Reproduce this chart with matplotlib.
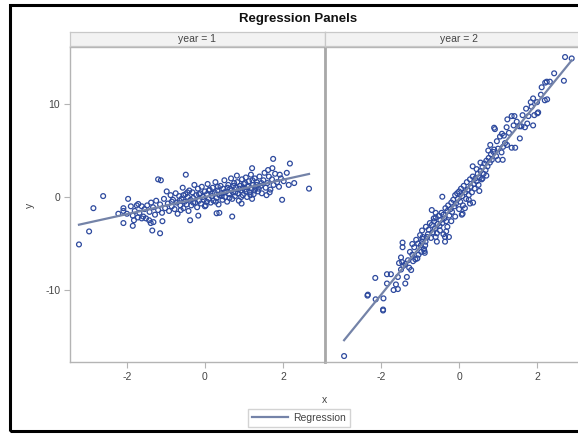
import numpy as np
import matplotlib.pyplot as plt
from matplotlib.patches import Rectangle
from matplotlib.lines import Line2D

plt.rcParams['font.family'] = ['Liberation Sans', 'DejaVu Sans']
plt.rcParams['axes.unicode_minus'] = False

# panel labels
panels = ["year = 1", "year = 2"]

# year = 1 points
x1 = [-3.23, -2.97, -2.86, -2.61, -2.09, -2.09, -1.97, -1.85, -1.82, -1.71, -1.35, -1.15, -1.2, -1.13,
      -1.09, -0.49, -0.38, 0.7, 1.75, 2.18, 2.67, 2.29, 1.98, 1.73, 1.21, 1.62, 1.92, 1.21, 1.58, 1.66,
      0.94, 0.3, 0.37, -0.17, 0.0, -1.43, -1.39, -1.32, -1.62, -1.51, -1.72, -2.22, -2.09,
      -1.55, -1.48, -1.42, -1.38, -1.33, -1.28, -1.25, -1.2, -1.15, -1.1, -1.05, -1.02, -0.98, -0.95,
      -0.92, -0.88, -0.85, -0.82, -0.78, -0.75, -0.72, -0.7, -0.66, -0.63, -0.6, -0.57, -0.55, -0.52,
      -0.5, -0.47, -0.44, -0.42, -0.4, -0.37, -0.35, -0.32, -0.3, -0.27, -0.25, -0.22, -0.2, -0.18,
      -0.15, -0.12, -0.1, -0.08, -0.05, -0.03, 0.0, 0.02, 0.05, 0.07, 0.1, 0.12, 0.15, 0.17, 0.2, 0.22,
      0.25, 0.27, 0.3, 0.32, 0.35, 0.37, 0.4, 0.42, 0.45, 0.47, 0.5, 0.52, 0.55, 0.57, 0.6, 0.62, 0.65,
      0.67, 0.7, 0.72, 0.75, 0.77, 0.8, 0.82, 0.85, 0.87, 0.9, 0.92, 0.95, 0.97, 1.0, 1.02, 1.05, 1.08,
      1.1, 1.13, 1.15, 1.18, 1.2, 1.23, 1.25, 1.28, 1.3, 1.33, 1.36, 1.4, 1.43, 1.46, 1.5, 1.53, 1.56,
      1.6, 1.64, 1.68, 1.72, 1.76, 1.8, 1.85, 1.9, 1.95, 2.02, 2.1, 2.15,
      -2.0, -1.9, -1.85, -1.8, -1.75, -1.68, -1.62, -1.58,
      -0.45, -0.3, -0.15, 0.05, 0.1, 0.18, 0.28, 0.33, 0.43, 0.5, 0.58, 0.63, 0.68, 0.73, 0.78, 0.83,
      0.88, 0.93, 0.98, 1.03, 1.07, 1.12, 1.17, 1.22, 1.27, 1.32, 1.38, 1.45, -0.65, -0.55, -0.85, -0.62]
y1 = [-5.1, -3.7, -1.2, 0.1, -1.2, -2.8, -0.2, -3.1, -2.5, -0.75, -3.6, -3.9, 1.9, 1.8,
      -2.6, 2.4, -2.5, -2.1, 4.1, 3.6, 0.9, 1.5, -0.3, 3.1, 3.1, 2.9, 2.4, -0.2, 0.2, 0.5,
      -0.7, -1.75, -1.7, -2.0, -1.0, -2.5, -2.8, -2.7, -2.3, -2.3, -2.2, -1.8, -1.5,
      -1.3, -0.9, -1.6, -0.6, -1.1, -1.9, -0.4, -1.4, -0.8, -1.7, -0.2, -1.2, 0.6, -0.7,
      -1.5, 0.2, -1.0, -0.3, -1.3, 0.4, -0.6, -1.8, 0.1, -0.9, -0.2, 1.0, -1.2, -0.5,
      0.3, -0.8, 0.0, -1.5, 0.7, -0.3, -0.9, 0.5, -0.1, 1.3, -0.6, 0.2, -1.1, 0.9,
      -0.4, 0.4, -0.7, 1.1, 0.0, -0.3, 0.6, -0.9, 0.3, 1.4, -0.2, 0.8, -0.6, 0.1, 1.0, -0.4,
      0.5, 1.6, -0.1, 0.7, -0.8, 0.2, 1.2, 0.4, -0.3, 0.9, 1.8, 0.0, 0.6, -0.5, 1.3, 0.3, 0.9,
      2.0, -0.2, 0.5, 1.5, 0.1, 1.0, 2.3, 0.4, -0.4, 1.2, 0.7, 1.9, 0.2, 1.4, 0.8, 2.1, 0.0,
      1.1, 1.7, 0.5, 2.4, 0.9, 1.3, 0.3, 2.0, 1.0, 1.6, 0.6, 2.2, 1.2, 0.4, 1.8, 2.6, 1.0,
      1.5, 2.2, 0.8, 1.9, 1.3, 2.5, 1.6, 1.1, 2.0, 1.7, 2.6, 1.3,
      -1.8, -1.0, -2.0, -1.5, -0.9, -1.7, -1.0, -2.1,
      0.5, -0.6, 0.3, -0.5, 0.7, 0.4, -0.5, 1.1, 0.1, 0.5, 1.0, -0.1, 0.7, 1.2, 0.5, 1.6,
      0.9, 0.0, 1.0, 1.5, 0.6, 1.2, 0.2, 1.8, 0.7, 1.3, 0.9, 1.5, -0.4, 0.2, -0.5, -1.4]

# year = 2 points
x2 = [-2.95, -2.34, -2.14, -1.94, -1.95, -2.15, -1.85, -1.85, -1.75, -1.68, -1.57, -1.62, -1.38, -1.34,
      -1.57, -1.49, -1.43, -1.54, -1.46, -1.38, -1.23, -1.28, -1.49, -1.18, -1.12, -1.07, -1.31, -1.45,
      -1.45, -1.2, -1.15, -1.26, -1.2, -1.04, -0.97, -0.89, -0.98, -0.95, -0.94, -0.87, -0.86, -0.82,
      -0.57, -0.49, -0.4, -0.33, -0.26, -2.35, -1.95, -0.7, -0.6, -0.65, -0.36, -0.36, 0.07, 0.09, 0.36,
      0.28, 0.52, -0.43, -0.93, -0.9, -0.88,
      -0.85, -0.8, -0.78, -0.75, -0.72, -0.7, -0.67, -0.64, -0.62, -0.6, -0.57, -0.55, -0.52, -0.5,
      -0.48, -0.45, -0.43, -0.4, -0.38, -0.35, -0.33, -0.3, -0.28, -0.25, -0.22, -0.2, -0.18, -0.15,
      -0.12, -0.1, -0.08, -0.05, -0.03, 0.0, 0.03, 0.05, 0.08, 0.1, 0.12, 0.15, 0.18, 0.2, 0.22, 0.25,
      0.28, 0.3, 0.33, 0.35, 0.38, 0.4, 0.42, 0.45, 0.48, 0.5, 0.53, 0.55, 0.58, 0.6, 0.63, 0.65, 0.68,
      0.7, 0.73, 0.76, 0.79, 0.82, 0.84, 0.88, 0.9, 0.95, 1.05, 1.1, 1.15, 1.28, 1.13, 1.18, 1.23, 1.09,
      1.12, 0.92, 1.35, 1.42, 1.24, 1.6, 1.75, 1.9, 1.56, 1.35, 1.44, 2.01, 0.9, 1.22, 1.4, 1.55, 1.69,
      1.48, 1.63, 1.78, 1.93, 1.72, 1.86, 2.03, 1.84, 2.0, 1.9, 2.1, 2.2, 2.26, 2.12, 2.21, 2.25, 2.33,
      2.44, 2.69, 2.72, 2.89, -0.95, -1.0, -1.05, -1.1, -0.3, -0.2, -0.6, 0.0, -0.1, 0.15, 0.25, 0.6,
      0.7, 0.45, 0.55, 0.35, 0.75, 0.8, 1.0, 1.0, 0.97]
y2 = [-17.1, -10.5, -11.0, -10.9, -12.2, -8.7, -9.3, -8.3, -8.3, -10.0, -9.9, -9.4, -9.3, -8.6,
      -8.6, -7.8, -7.4, -7.1, -7.0, -7.2, -7.85, -7.6, -6.5, -6.9, -6.7, -6.6, -6.8, -4.9,
      -5.4, -5.05, -5.4, -5.9, -6.2, -6.2, -5.9, -5.8, -5.2, -4.8, -4.5, -5.2, -4.8, -4.3,
      -4.8, -3.6, -4.0, -3.7, -4.3, -10.6, -12.1, -1.4, -1.7, -2.3, -4.3, -4.8, -1.9, -1.8, -0.6,
      -0.7, 0.65, 0.03, -4.3, -5.6, -6.0,
      -3.2, -4.0, -3.5, -2.8, -4.4, -3.0, -3.8, -2.6, -3.4, -2.2, -3.9, -2.9, -2.0, -3.1,
      -2.5, -1.7, -2.8, -1.9, -2.3, -1.2, -2.6, -1.5, -0.9, -2.0, -1.3, -0.6, -1.6, -0.3,
      -1.0, 0.2, -0.7, 0.4, -0.2, 0.6, -0.5, 0.9, 0.1, -0.9, 1.2, 0.5, -0.2, 1.6, 0.8, 0.2,
      1.9, 1.1, 0.5, 2.2, 1.4, 0.9, 2.0, 1.7, 2.5, 1.3, 2.1, 2.8, 1.9, 3.2, 2.5, 3.6, 2.9,
      3.9, 3.3, 4.2, 3.7, 4.6, 4.0, 4.85, 5.1, 4.4, 6.5, 6.8, 6.6, 6.9, 5.4, 5.8, 5.6, 4.8,
      4.0, 7.3, 8.7, 8.7, 8.35, 7.6, 7.9, 7.7, 6.3, 5.3, 5.3, 9.0, 7.45, 7.5, 7.7, 7.6, 7.5,
      8.1, 8.8, 8.7, 8.8, 9.5, 9.7, 9.1, 10.2, 10.2, 10.6, 11.0, 10.4, 10.5, 11.8, 12.3, 12.4, 12.4,
      13.3, 12.5, 15.05, 14.9, -3.6, -4.1, -5.0, -4.6, -3.2, -2.6, -4.3, -1.3, -2.1, -1.2, -0.3, 2.0,
      2.3, 3.0, 3.7, 3.3, 5.0, 5.6, 5.2, 4.0, 6.0]

marker_col = "#2E4A9E"
line_col = "#7483A8"
grid_col = "#B4B4B4"
text_col = "#444444"

W, H = 578, 434
fig = plt.figure(figsize=(W / 100, H / 100), dpi=100)

# outer black frame (cut at the right edge like the reference)
fig.patches.append(Rectangle((10 / W, 3 / H), 1.2, (429 - 3) / H, transform=fig.transFigure,
                             fill=False, edgecolor="black", linewidth=2.2, clip_on=False))

fig.text(298 / W, 1 - 19 / H, "Regression Panels", ha="center", va="center",
         fontsize=9.5, fontweight="bold", color="#111111")

bottom = (H - 362) / H
height = (362 - 47) / H
ax1 = fig.add_axes([70 / W, bottom, 255 / W, height])
ax2 = fig.add_axes([325 / W, bottom, 265 / W, height])

data = [(ax1, x1, y1, (-3.46, 3.08)), (ax2, x2, y2, (-3.44, 3.36))]
for ax, xs, ys, xl in data:
    xs = np.array(xs)
    ys = np.array(ys)
    ax.scatter(xs, ys, s=12, facecolors="none", edgecolors=marker_col, linewidths=0.9, zorder=2)
    b, a = np.polyfit(xs, ys, 1)
    xx = np.array([xs.min(), xs.max()])
    ax.plot(xx, a + b * xx, color=line_col, linewidth=1.6, zorder=3)
    ax.set_xlim(*xl)
    ax.set_ylim(-17.74, 16.13)
    ax.set_xticks([-2, 0, 2])
    for s in ax.spines.values():
        s.set_color(grid_col)
        s.set_linewidth(1.0)
    ax.tick_params(axis="both", direction="out", length=4, width=0.8, color=grid_col,
                   labelsize=7.5, labelcolor=text_col, pad=3)

ax1.set_yticks([-10, 0, 10])
ax2.set_yticks([])
ax2.spines["left"].set_linewidth(2.0)
ax2.spines["left"].set_color("#A8A8A8")

# header strips
for i, lab in enumerate(panels):
    l = 70 if i == 0 else 325
    w = 255 if i == 0 else 265
    sax = fig.add_axes([l / W, (H - 46) / H, w / W, 14 / H])
    sax.set_facecolor("#F2F2F2")
    sax.set_xticks([])
    sax.set_yticks([])
    for s in sax.spines.values():
        s.set_color("#C8C8C8")
        s.set_linewidth(0.9)
    cx = 0.5 if i == 0 else (459 - 325) / w
    sax.text(cx, 0.5, lab, transform=sax.transAxes, ha="center", va="center",
             fontsize=7.5, color=text_col)

fig.text(325 / W, 1 - 400 / H, "x", ha="center", va="center", fontsize=7.5, color=text_col)
fig.text(30 / W, 1 - 205 / H, "y", ha="center", va="center", rotation=90, fontsize=7.5, color=text_col)

handle = Line2D([], [], color=line_col, linewidth=1.6)
fig.legend([handle], ["Regression"], loc="center", bbox_to_anchor=(299 / W, 1 - 418 / H),
           fontsize=7.5, frameon=True, fancybox=False, edgecolor="#C8C8C8", handlelength=3.5,
           borderpad=0.35, handletextpad=0.5, labelcolor=text_col)

fig.savefig("out.png", dpi=100)
